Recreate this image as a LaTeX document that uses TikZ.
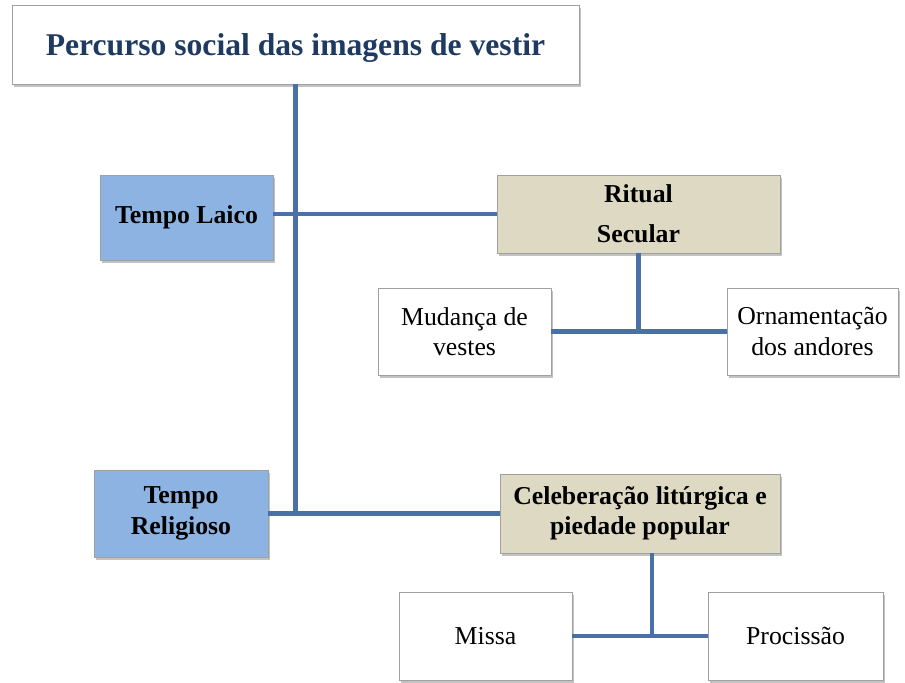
\documentclass[tikz,border=0pt]{standalone}
\usepackage{fontspec}
\setmainfont{Liberation Serif}
\usepackage{tikz}
\usetikzlibrary{positioning, shadows, calc}
\definecolor{linkblue}{HTML}{4A70A8}
\definecolor{titlenavy}{HTML}{1F3A60}
\definecolor{laicoblue}{HTML}{8DB3E2}
\definecolor{ritualtan}{HTML}{DDD9C3}
\definecolor{boxgray}{HTML}{A0A0A0}

\begin{document}
\begin{tikzpicture}[
    x=0.03cm, y=-0.03cm,
    every node/.style={font=\fontsize{22}{26}\selectfont},
    box/.style={
        rectangle,
        draw=boxgray,
        line width=0.8pt,
        fill=white,
        align=center,
        inner sep=2pt,
        drop shadow={shadow xshift=2pt, shadow yshift=-2.5pt, fill=black!40, opacity=0.6}
    },
    timebox/.style={box, fill=laicoblue, font=\fontsize{22}{26}\selectfont\bfseries},
    themebox/.style={box, fill=ritualtan, font=\fontsize{22}{26}\selectfont\bfseries},
    link/.style={draw=linkblue, line width=4pt}
]
\useasboundingbox (0,0) rectangle (905,683);

% NODES
\node[box, minimum width=17.01cm, minimum height=2.37cm, text height=25pt, text depth=6pt,
      font=\fontsize{27}{32}\selectfont\bfseries, text=titlenavy]
      (title) at (295.5, 44.5) {Percurso social das imagens de vestir};

\node[timebox, minimum width=5.19cm, minimum height=2.55cm] (laico) at (186.5, 217.5) {Tempo Laico};
\node[timebox, minimum width=5.22cm, minimum height=2.61cm] (religioso) at (181, 513.5) {Tempo\\Religioso};

\node[themebox, minimum width=8.49cm, minimum height=2.34cm] (ritual) at (638.5, 214) {Ritual\\[8pt]Secular};
\node[themebox, minimum width=8.4cm, minimum height=2.37cm] (celeb) at (640, 513.5) {Celeberação litúrgica e\\piedade popular};

\node[box, minimum width=5.19cm, minimum height=2.61cm] (mudanca) at (464.5, 331.5) {Mudança de\\vestes};
\node[box, minimum width=5.13cm, minimum height=2.61cm] (ornam) at (812.5, 331.5) {Ornamentação\\dos andores};

\node[box, minimum width=5.19cm, minimum height=2.64cm] (missa) at (485.5, 636) {Missa};
\node[box, minimum width=5.25cm, minimum height=2.64cm] (procissao) at (795.5, 636) {Procissão};

% CONNECTORS
\draw[link] (title.south) -- (title.south |- religioso.east);
\draw[link] (laico.east |- ritual.west) -- (ritual.west);
\draw[link] (religioso.east) -- (celeb.west);

\draw[link] (ritual.south) -- (ritual.south |- mudanca.east);
\draw[link] (mudanca.east) -- (ornam.west);

\coordinate (celebfoot) at ($(celeb.south)+(12,0)$);
\draw[link] (celebfoot) -- (celebfoot |- missa.east);
\draw[link] (missa.east) -- (procissao.west);

\end{tikzpicture}
\end{document}
